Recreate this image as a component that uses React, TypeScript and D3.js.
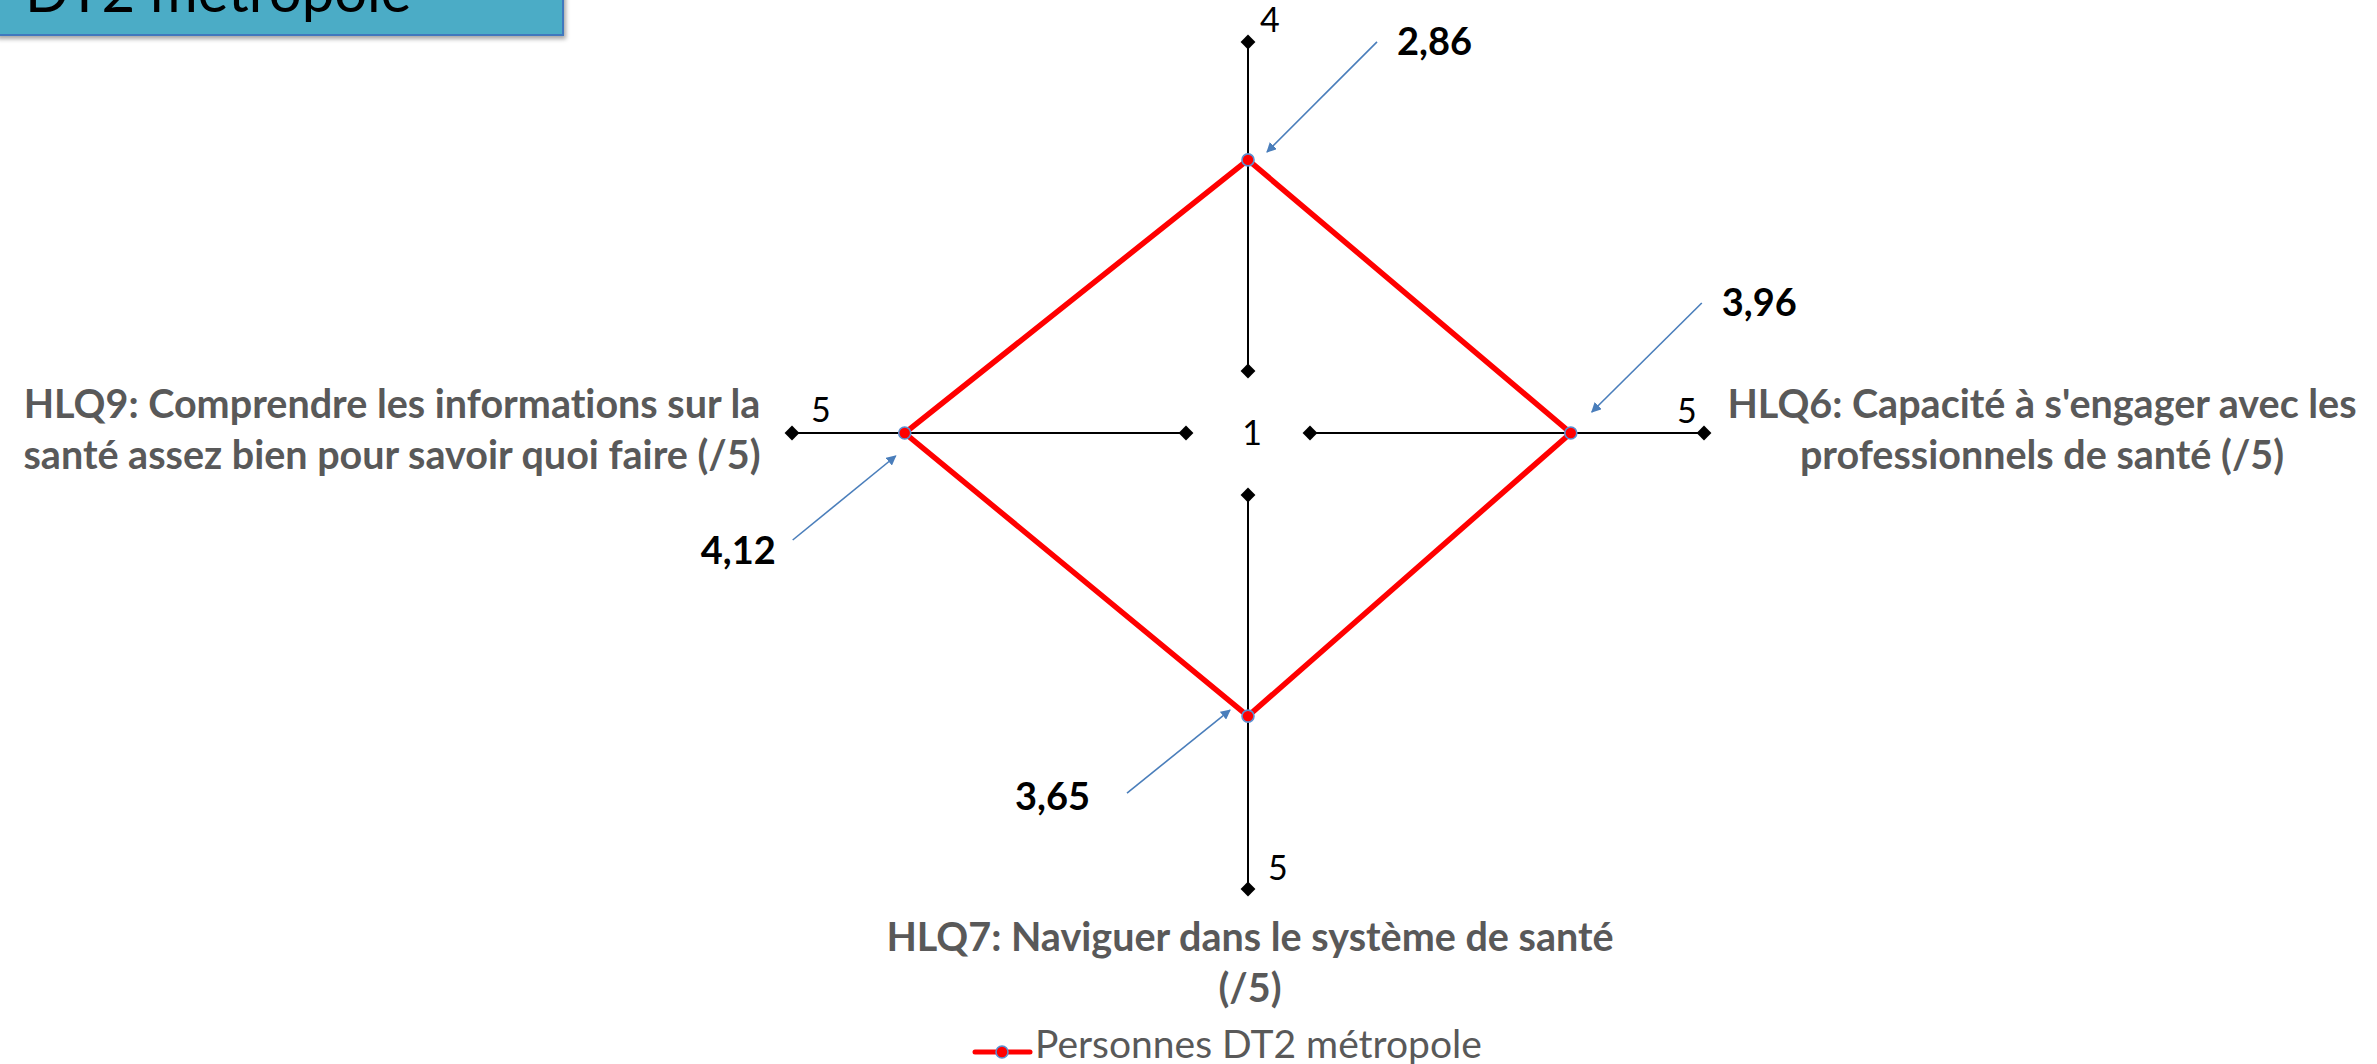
import React from "react";
import * as d3 from "d3";

// ---- data ----
const axisKeys = ["HLQ?", "HLQ6", "HLQ7", "HLQ9"];
const categoryLines: string[][] = [
  [],
  ["HLQ6: Capacité à s'engager avec les", "professionnels de santé (/5)"],
  ["HLQ7: Naviguer dans le système de santé", "(/5)"],
  ["HLQ9: Comprendre les informations sur la", "santé assez bien pour savoir quoi faire (/5)"],
];
const values = [2.86, 3.96, 3.65, 4.12];
const valueLabels = ["2,86", "3,96", "3,65", "4,12"];
const axisMin = [0.22, 1.44, 1.44, 1.44];
const axisMax = [4, 5, 5, 5];
const maxTickLabels = ["4", "5", "5", "5"];
const centerTickLabel = "1";
const seriesName = "Personnes DT2 métropole";
const titleText = "DT2 métropole";

// ---- layout ----
const W = 2377;
const H = 1064;
const cx = 1248;
const cy = 433;
const innerR = 62;
const outerR = [391, 456, 456, 456];
const angles = [-90, 0, 90, 180];
const FONT = "Lato, 'Open Sans', sans-serif";

// annotation offsets relative to the data point
const ann = [
  { tip: [19, -8], start: [129, -118], label: [149, -105], anchor: "start" },
  { tip: [21, -21], start: [131, -130], label: [151, -117], anchor: "start" },
  { tip: [-18, -6], start: [-121, 77], label: [-158, 94], anchor: "end" },
  { tip: [-9, 23], start: [-112, 107], label: [-129, 131], anchor: "end" },
];
const tickOffsets = [
  [12, -10],
  [-27, -10],
  [20, -9],
  [19, -11],
];
const catPos = [
  { x: 0, y: 0 },
  { x: 2042, y: 418 },
  { x: 1250, y: 951 },
  { x: 392, y: 418 },
];

function dir(i: number) {
  const a = (angles[i] * Math.PI) / 180;
  return [Math.cos(a), Math.sin(a)];
}

const scales = axisKeys.map((_, i) =>
  d3.scaleLinear().domain([axisMin[i], axisMax[i]]).range([0, outerR[i]])
);

function pt(i: number, r: number): [number, number] {
  const [dx, dy] = dir(i);
  return [cx + dx * r, cy + dy * r];
}

const diamond = d3.symbol().type(d3.symbolDiamond2).size(140)();

export default function App() {
  const points = values.map((v, i) => pt(i, scales[i](v)));
  const poly = d3.line().curve(d3.curveLinearClosed)(points) || "";
  const arrowColor = "#4a7ebb";

  return (
    <svg
      width={W}
      height={H}
      style={{ position: "absolute", left: 0, top: 0, background: "#fff", fontVariantLigatures: "none" }}
      fontFamily={FONT}
    >
      <defs>
        <marker
          id="arr"
          viewBox="0 0 10 10"
          refX="9"
          refY="5"
          markerWidth="10"
          markerHeight="10"
          markerUnits="userSpaceOnUse"
          orient="auto"
        >
          <path d="M0,0 L10,5 L0,10 Z" fill={arrowColor} />
        </marker>
        <filter id="shadow" x="-10%" y="-50%" width="120%" height="200%">
          <feDropShadow dx="2" dy="3" stdDeviation="2" floodColor="#000" floodOpacity="0.35" />
        </filter>
      </defs>

      {/* title box */}
      <rect x={-4} y={-60} width={567} height={95} fill="#4bacc6" stroke="#4178be" strokeWidth={2} filter="url(#shadow)" />
      <text x={25} y={12} fontSize={58} fill="#000">{titleText}</text>

      {/* axes */}
      {axisKeys.map((k, i) => {
        const [x1, y1] = pt(i, innerR);
        const [x2, y2] = pt(i, outerR[i]);
        return (
          <g key={k}>
            <line x1={x1} y1={y1} x2={x2} y2={y2} stroke="#000" strokeWidth={2} />
            <path d={diamond} transform={`translate(${x1},${y1})`} fill="#000" />
            <path d={diamond} transform={`translate(${x2},${y2})`} fill="#000" />
            <text x={x2 + tickOffsets[i][0]} y={y2 + tickOffsets[i][1]} fontSize={34} fill="#000">
              {maxTickLabels[i]}
            </text>
          </g>
        );
      })}
      <text x={cx + 4} y={cy + 12} fontSize={34} textAnchor="middle" fill="#000">
        {centerTickLabel}
      </text>

      {/* series */}
      <path d={poly} fill="none" stroke="#ff0000" strokeWidth={5.5} strokeLinejoin="miter" />
      {points.map((p, i) => (
        <circle key={i} cx={p[0]} cy={p[1]} r={6} fill="#ff0000" stroke="#5b8fd0" strokeWidth={1.6} />
      ))}

      {/* annotations */}
      {points.map((p, i) => (
        <g key={"a" + i}>
          <line
            x1={p[0] + ann[i].start[0]}
            y1={p[1] + ann[i].start[1]}
            x2={p[0] + ann[i].tip[0]}
            y2={p[1] + ann[i].tip[1]}
            stroke={arrowColor}
            strokeWidth={1.6}
            markerEnd="url(#arr)"
          />
          <text
            x={p[0] + ann[i].label[0]}
            y={p[1] + ann[i].label[1]}
            fontSize={38}
            fontWeight="bold"
            textAnchor={ann[i].anchor as any}
            fill="#000"
          >
            {valueLabels[i]}
          </text>
        </g>
      ))}

      {/* category labels */}
      {categoryLines.map((lines, i) => (
        <text
          key={"c" + i}
          x={catPos[i].x}
          y={catPos[i].y}
          fontSize={39.5}
          fontWeight="bold"
          fill="#595959"
          textAnchor="middle"
        >
          {lines.map((l, j) => (
            <tspan key={j} x={catPos[i].x} dy={j === 0 ? 0 : 51}>
              {l}
            </tspan>
          ))}
        </text>
      ))}

      {/* legend */}
      <g>
        <line x1={975} y1={1052} x2={1030} y2={1052} stroke="#ff0000" strokeWidth={5} strokeLinecap="round" />
        <circle cx={1002} cy={1052} r={6} fill="#ff0000" stroke="#5b8fd0" strokeWidth={1.6} />
        <text x={1035} y={1058} fontSize={39} fill="#595959">{seriesName}</text>
      </g>
    </svg>
  );
}
